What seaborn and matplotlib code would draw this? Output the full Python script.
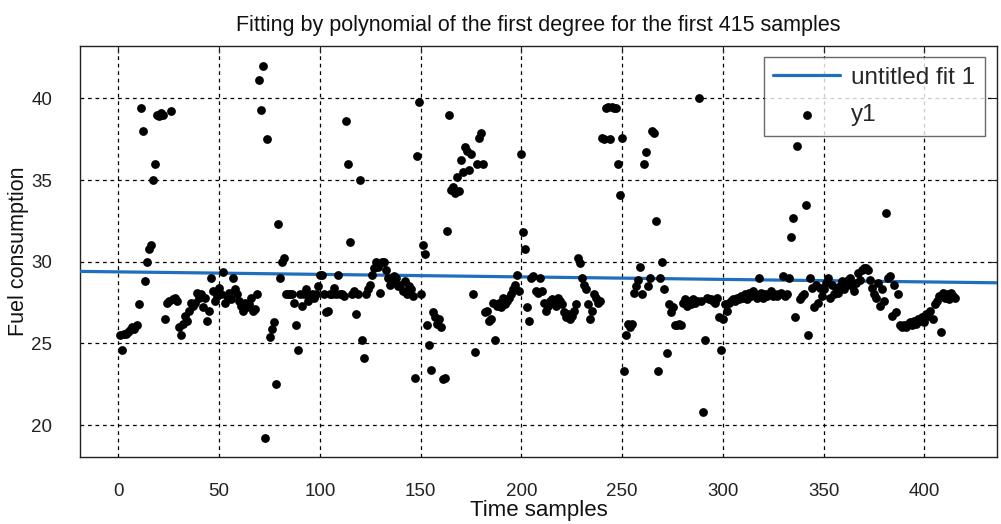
import numpy as np
import pandas as pd
import matplotlib
matplotlib.use("Agg")
import matplotlib.pyplot as plt
import seaborn as sns

# fuel consumption, samples 1..415
fuel = [
    25.5, 24.6, 25.6, 25.6, 25.7, 25.8, 26.0, 25.9, 26.1, 27.4,
    39.4, 38.0, 28.8, 30.0, 30.8, 31.0, 35.0, 36.0, 39.0, 38.9,
    39.1, 39.0, 26.5, 27.5, 27.6, 39.2, 27.7, 27.8, 27.6, 26.0,
    25.5, 26.2, 26.7, 26.4, 27.0, 27.5, 27.3, 27.5, 28.1, 27.8,
    28.0, 27.2, 27.8, 26.4, 27.0, 29.0, 28.2, 27.6, 27.9, 28.4,
    28.0, 29.4, 27.5, 27.9, 28.1, 27.7, 29.0, 28.3, 28.0, 27.6,
    27.3, 27.0, 27.5, 27.2, 27.4, 27.8, 27.0, 27.1, 28.0, 41.1,
    39.3, 42.0, 19.2, 37.5, 25.4, 25.9, 26.3, 22.5, 32.3, 29.0,
    30.0, 30.2, 28.0, 28.0, 28.0, 28.0, 27.5, 26.1, 24.6, 28.0,
    27.3, 28.0, 28.3, 27.6, 27.9, 28.0, 27.8, 28.0, 28.5, 29.2,
    29.2, 28.0, 26.9, 27.0, 28.0, 28.0, 28.4, 28.0, 29.2, 28.0,
    28.0, 27.9, 38.6, 36.0, 31.2, 28.0, 28.2, 26.8, 28.0, 35.0,
    25.2, 24.1, 28.0, 28.3, 28.6, 29.2, 29.6, 30.0, 29.7, 28.1,
    30.0, 30.0, 29.5, 29.0, 28.6, 28.8, 29.1, 29.0, 28.5, 28.6,
    28.2, 28.8, 28.0, 28.5, 28.3, 27.9, 22.9, 36.5, 39.8, 28.0,
    31.0, 30.5, 26.1, 24.9, 23.4, 26.9, 26.6, 26.2, 26.5, 26.0,
    22.8, 22.9, 31.9, 39.0, 34.4, 34.6, 34.2, 35.2, 34.3, 36.2,
    35.5, 37.0, 36.8, 35.6, 36.6, 28.0, 24.5, 36.0, 37.6, 37.9,
    36.0, 26.9, 27.0, 26.4, 26.5, 27.5, 25.2, 27.3, 27.5, 27.2,
    27.8, 27.4, 27.6, 27.8, 28.0, 28.3, 28.6, 29.2, 28.2, 36.6,
    31.8, 30.8, 27.2, 26.4, 29.0, 29.1, 28.2, 28.1, 29.0, 28.2,
    27.5, 27.0, 27.3, 27.6, 27.7, 27.5, 27.3, 27.8, 27.6, 27.4,
    26.9, 26.6, 26.8, 26.5, 26.7, 27.0, 27.4, 30.2, 29.9, 29.0,
    28.6, 28.3, 27.4, 26.5, 27.0, 28.0, 27.8, 27.5, 27.6, 37.6,
    37.5, 39.4, 39.5, 37.5, 39.5, 39.4, 39.4, 36.0, 34.1, 37.6,
    23.3, 25.5, 26.2, 26.0, 26.2, 28.1, 28.5, 28.9, 29.7, 28.0,
    36.0, 36.7, 28.5, 29.0, 38.0, 37.9, 32.5, 23.3, 29.0, 30.0,
    28.3, 24.4, 27.4, 26.9, 27.2, 26.1, 26.1, 26.2, 26.1, 27.5,
    27.7, 27.3, 27.6, 27.4, 27.7, 27.5, 27.6, 40.0, 27.6, 20.8,
    25.2, 27.8, 27.7, 27.7, 27.6, 27.5, 27.8, 26.6, 24.6, 26.5,
    27.4, 27.0, 27.5, 27.6, 27.7, 27.6, 27.8, 27.7, 27.9, 27.8,
    28.0, 27.7, 28.1, 27.9, 28.2, 28.0, 27.8, 29.0, 28.1, 27.8,
    28.0, 27.9, 28.0, 28.2, 27.9, 28.0, 27.9, 28.0, 28.1, 29.1,
    27.9, 28.0, 29.0, 31.5, 32.7, 26.6, 37.1, 27.7, 27.9, 28.0,
    33.5, 25.5, 29.0, 28.4, 27.2, 28.6, 27.5, 28.4, 27.9, 28.3,
    28.7, 29.0, 27.8, 28.6, 28.0, 28.4, 28.1, 28.5, 28.8, 28.3,
    28.6, 28.9, 29.0, 28.5, 28.2, 28.7, 29.3, 28.9, 29.5, 29.6,
    29.6, 29.5, 28.9, 28.4, 28.0, 27.8, 28.7, 27.3, 28.3, 27.6,
    33.0, 29.0, 29.1, 26.7, 28.6, 26.9, 28.0, 26.1, 26.0, 26.1,
    26.0, 26.2, 26.3, 26.1, 26.4, 26.2, 26.5, 26.4, 26.6, 26.3,
    26.8, 26.7, 27.0, 26.5, 27.4, 27.6, 27.9, 25.7, 28.1, 27.8,
    28.0, 27.7, 28.1, 27.9, 27.8,
]
samples = list(range(1, len(fuel) + 1))

# first degree fit ("untitled fit 1"), ends read at the axis limits
fit_x = [-20, 436]
fit_y = [29.41, 28.71]

x_ticks = [0, 50, 100, 150, 200, 250, 300, 350, 400]
y_ticks = [20, 25, 30, 35, 40]

df = pd.DataFrame({"t": samples, "fuel": fuel})
fit_df = pd.DataFrame({"t": fit_x, "fuel": fit_y})

sns.set_style("white")
plt.rcParams["font.family"] = ["Liberation Sans", "DejaVu Sans"]

fig = plt.figure(figsize=(10.01, 5.24), dpi=100)
ax = fig.add_axes([0.080, 0.128, 0.916, 0.784])

sns.lineplot(data=fit_df, x="t", y="fuel", color="#1f6fbf", linewidth=2.3,
             ax=ax, label="untitled fit 1", zorder=3)
sns.scatterplot(data=df, x="t", y="fuel", color="black", s=40, linewidth=0,
                ax=ax, label="y1", zorder=4)

ax.set_xlim(-19, 436)
ax.set_ylim(18.05, 43.2)
ax.set_xticks(x_ticks)
ax.set_yticks(y_ticks)
ax.grid(True, color="black", linestyle=(0, (3, 3)), linewidth=0.9)
ax.set_axisbelow(True)
ax.tick_params(direction="in", length=5, top=True, right=True,
               labelsize=13.5, colors="#222222", labelcolor="#222222")
ax.tick_params(axis="x", pad=19)
ax.tick_params(axis="y", pad=20)
for s in ax.spines.values():
    s.set_color("#222222")
    s.set_linewidth(1.0)

ax.set_title("Fitting by polynomial of the first degree for the first 415 samples",
             fontsize=15.5, pad=11, color="#111111")
ax.set_xlabel("Time samples", fontsize=16, labelpad=0, color="#111111")
ax.set_ylabel("Fuel consumption", fontsize=15.5, labelpad=2, color="#111111")

leg = ax.legend(loc="upper right", bbox_to_anchor=(0.987, 0.973),
                borderaxespad=0, fontsize=17.5,
                frameon=True, fancybox=False, edgecolor="#444444",
                borderpad=0.4, handlelength=2.75, handletextpad=0.45,
                labelspacing=0.62, markerscale=1.0)
leg.get_frame().set_linewidth(1.0)

fig.savefig("out.png", dpi=100)
